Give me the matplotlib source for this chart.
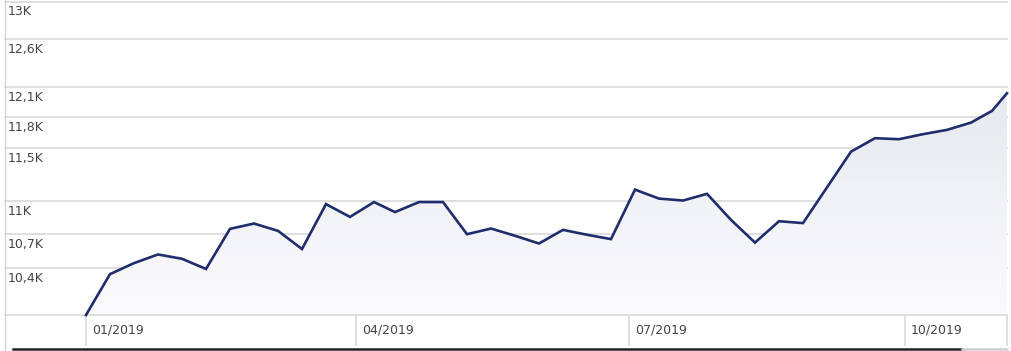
import matplotlib
matplotlib.use("Agg")
import matplotlib.pyplot as plt
from matplotlib.colors import LinearSegmentedColormap
from matplotlib.lines import Line2D
import numpy as np
import pandas as pd

dates = ["2019-01-01", "2019-01-09", "2019-01-17", "2019-01-25", "2019-02-02",
         "2019-02-10", "2019-02-18", "2019-02-26", "2019-03-06", "2019-03-14",
         "2019-03-22", "2019-03-30", "2019-04-07", "2019-04-14", "2019-04-22",
         "2019-04-30", "2019-05-08", "2019-05-16", "2019-05-24", "2019-06-01",
         "2019-06-09", "2019-06-17", "2019-06-25", "2019-07-03", "2019-07-11",
         "2019-07-19", "2019-07-27", "2019-08-04", "2019-08-12", "2019-08-20",
         "2019-08-28", "2019-09-05", "2019-09-13", "2019-09-21", "2019-09-29",
         "2019-10-07", "2019-10-15", "2019-10-23", "2019-10-30", "2019-11-04"]
values = [10000, 10348, 10444, 10520, 10482, 10393, 10748, 10796, 10730, 10568,
          10973, 10856, 10992, 10900, 10992, 10992, 10700, 10751, 10686, 10617,
          10739, 10695, 10656, 11107, 11024, 11006, 11068, 10829, 10625, 10817,
          10800, 11128, 11466, 11596, 11586, 11635, 11677, 11748, 11864, 12041]

y_ticks = [10400, 10700, 11000, 11500, 11800, 12100, 12600, 13000]
y_labels = ["10,4K", "10,7K", "11K", "11,5K", "11,8K", "12,1K", "12,6K", "13K"]
x_labels = ["01/2019", "04/2019", "07/2019", "10/2019"]

x = pd.to_datetime(dates)
x_ticks = pd.to_datetime(x_labels, format="%m/%Y")

W, H = 1011, 351
fig = plt.figure(figsize=(W / 100, H / 100), dpi=100)
left, right, top, bottom = 5, 1007, 1.7, 315
ax = fig.add_axes([left / W, 1 - bottom / H, (right - left) / W, (bottom - top) / H])

line_col = "#1f2d6c"
grid_col = "#dcdcdc"
text_col = "#444444"

ax.set_yscale("log")
x0 = x[0] - pd.Timedelta(days=27)

# gradient fill under the line
poly = ax.fill_between(x, values, 10000, color="none", lw=0)
cmap = LinearSegmentedColormap.from_list("g", ["#fbfbfd", "#dfe1ea"])
grad = np.linspace(0, 1, 256).reshape(-1, 1)
im = ax.imshow(grad, extent=[0, 1, 0, 1], transform=ax.transAxes, aspect="auto",
               origin="lower", cmap=cmap, zorder=1)
im.set_clip_path(poly.get_paths()[0], transform=ax.transData)
ax.set_autoscale_on(False)
ax.set_xlim(x0, x[-1])
ax.set_ylim(10000, 13000)

for t in y_ticks:
    ax.axhline(t, color=grid_col, lw=1.3, zorder=0, clip_on=False)

ax.plot(x, values, color=line_col, lw=1.9, zorder=3, clip_on=False,
        solid_joinstyle="miter")

for t, lab in zip(y_ticks, y_labels):
    ax.annotate(lab, xy=(0, t), xycoords=("axes fraction", "data"),
                xytext=(1.8, -7.3), textcoords="offset points",
                ha="left", va="center", fontsize=9, color=text_col)

ax.set_xticks([])
ax.set_yticks([])
ax.yaxis.set_minor_locator(matplotlib.ticker.NullLocator())
for s in ["top", "left", "right"]:
    ax.spines[s].set_visible(False)
ax.spines["bottom"].set_color(grid_col)
ax.spines["bottom"].set_linewidth(1.3)

tick_h = 30 / (bottom - top)
for t, lab in zip(x_ticks, x_labels):
    ax.axvline(t, ymin=-tick_h, ymax=0, color=grid_col, lw=1.3, clip_on=False)
    ax.annotate(lab, xy=(t, 0), xycoords=("data", "axes fraction"),
                xytext=(4.3, -10.5), textcoords="offset points",
                ha="left", va="center", fontsize=9, color=text_col)
ax.axvline(x[-1], ymin=-tick_h, ymax=0, color=grid_col, lw=1.3, clip_on=False)

# frame bits outside the plot
fig.add_artist(Line2D([4.5 / W, 4.5 / W], [0, 1], color="#d6d6d6", lw=1.0))
fig.add_artist(Line2D([13 / W, 962 / W], [1 - 349 / H, 1 - 349 / H], color="#222222", lw=1.8))
fig.add_artist(Line2D([962 / W, 1007 / W], [1 - 349 / H, 1 - 349 / H], color="#cfcfcf", lw=1.8))

fig.savefig("out.png", dpi=100)
